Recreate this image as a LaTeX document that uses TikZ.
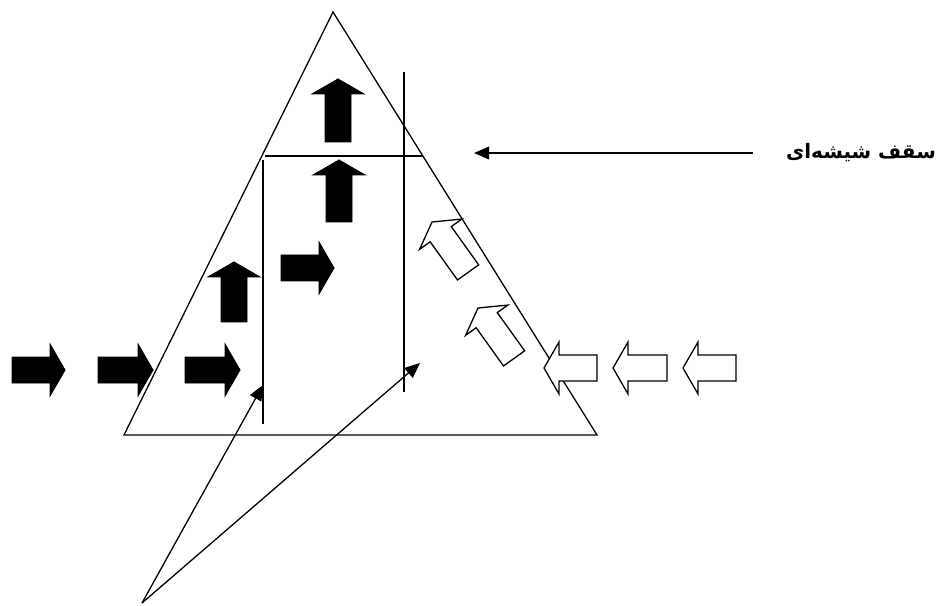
\documentclass[tikz,border=0pt]{standalone}
\usepackage{fontspec}
\usetikzlibrary{arrows.meta, positioning}
\newfontfamily\arabicfont[Script=Arabic]{DejaVu Sans}
\TeXXeTstate=1

% block arrow: style, tip, angle, length
\newcommand{\fatarrow}[4]{%
  \draw[#1, shift={#2}, rotate=#3] (0,0) -- (-15,26) -- (-15,13) -- (-#4,13)
    -- (-#4,-13) -- (-15,-13) -- (-15,-26) -- cycle;}

\begin{document}
\begin{tikzpicture}[x=0.03cm, y=0.03cm,
    line/.style={line width=1.1pt},
    pointer/.style={line width=1.1pt, -{Triangle[length=13pt, width=11pt]}},
    solid arrow/.style={draw=black, fill=black, line width=0.8pt, line join=miter},
    hollow arrow/.style={draw=black, fill=white, line width=1.1pt, line join=miter}
]
\useasboundingbox (0,0) rectangle (945,605);

% Triangle and the two walls
\coordinate (apex) at (333,593);
\coordinate (bl) at (124,170);
\coordinate (br) at (597,170);
\draw[line] (apex) -- (bl) -- (br) -- cycle;
\draw[line] (265,449) -- (423,449);
\draw[line] (263,445) -- (263,181);
\draw[line] (404,533) -- (404,213);

% Glass roof label
\node[font=\arabicfont\bfseries\fontsize{17}{20}\selectfont, anchor=east] (roof) at (940,452) {\beginR سقف شیشه‌ای\endR};
\coordinate (roofstart) at (753,452);
\coordinate (rooftip) at (474,452);
\draw[pointer] (roofstart) -- (rooftip);

% Pointers from below
\coordinate (src) at (142,2);
\coordinate (wallA) at (263,220);
\coordinate (wallB) at (420,242);
\draw[pointer] (src) -- (wallA);
\draw[pointer] (src) -- (wallB);

% Warm air (solid arrows)
\fatarrow{solid arrow}{(65,235)}{0}{53}
\fatarrow{solid arrow}{(153,235)}{0}{55}
\fatarrow{solid arrow}{(240,235)}{0}{55}
\fatarrow{solid arrow}{(334,337)}{0}{53}
\fatarrow{solid arrow}{(234,343)}{90}{60}
\fatarrow{solid arrow}{(339,445)}{90}{62}
\fatarrow{solid arrow}{(338,526)}{90}{63}

% Cold air (hollow arrows)
\fatarrow{hollow arrow}{(544,237)}{180}{53}
\fatarrow{hollow arrow}{(613,237)}{180}{54}
\fatarrow{hollow arrow}{(683,237)}{180}{53}
\fatarrow{hollow arrow}{(478,297)}{125.6}{62}
\fatarrow{hollow arrow}{(432,383)}{125.6}{62}
\end{tikzpicture}
\end{document}
